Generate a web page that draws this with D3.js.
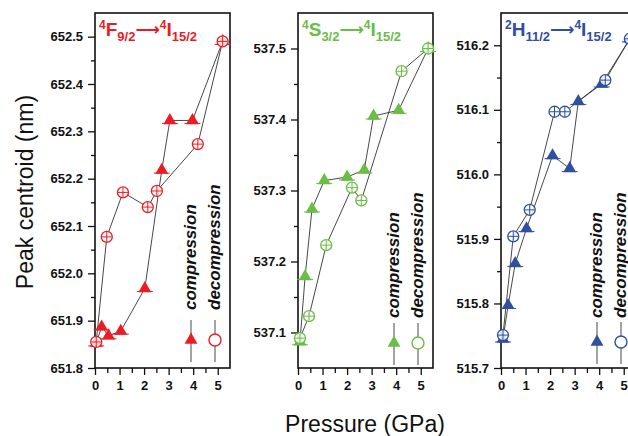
<!DOCTYPE html>
<html><head><meta charset="utf-8">
<script src="https://cdn.jsdelivr.net/npm/d3@7"></script>
<style>body{margin:0;background:#fff;} svg{display:block;font-family:"Liberation Sans",Arial,sans-serif;}</style>
</head><body><svg id="c" width="628" height="436"></svg>
<script>
// ---------- data ----------
const xTickValues = [0, 1, 2, 3, 4, 5];
const legendLabels = ["compression", "decompression"];

// 4F9/2 -> 4I15/2
const fCompP = [0.05, 0.27, 0.55, 1.05, 2.03, 2.72, 3.05, 3.97, 5.2];
const fCompV = [651.853, 651.887, 651.868, 651.878, 651.968, 652.218, 652.323, 652.323, 652.49];
const fDecP  = [5.2, 4.19, 2.52, 2.15, 1.14, 0.48, 0.05];
const fDecV  = [652.49, 652.273, 652.174, 652.14, 652.171, 652.077, 651.855];
const fYTicks = [651.8, 651.9, 652.0, 652.1, 652.2, 652.3, 652.4, 652.5];

// 4S3/2 -> 4I15/2
const sCompP = [0.08, 0.29, 0.57, 1.07, 2.0, 2.7, 3.08, 4.1, 5.3];
const sCompV = [537.087, 537.179, 537.274, 537.314, 537.319, 537.329, 537.405, 537.413, 537.5];
const sDecP  = [5.3, 4.22, 2.58, 2.2, 1.15, 0.45, 0.08];
const sDecV  = [537.5, 537.468, 537.286, 537.304, 537.223, 537.123, 537.092];
const sYTicks = [537.1, 537.2, 537.3, 537.4, 537.5];

// 2H11/2 -> 4I15/2
const hCompP = [0.08, 0.29, 0.58, 1.04, 2.1, 2.8, 3.15, 4.1, 5.25];
const hCompV = [515.745, 515.797, 515.862, 515.916, 516.029, 516.009, 516.113, 516.14, 516.21];
const hDecP  = [5.25, 4.25, 2.6, 2.18, 1.17, 0.5, 0.08];
const hDecV  = [516.21, 516.146, 516.097, 516.097, 515.945, 515.904, 515.751];
const hYTicks = [515.7, 515.8, 515.9, 516.0, 516.1, 516.2];

// ---------- layout ----------
const panels = [
  {left: 95, yDom: [651.8, 652.55], yTicks: fYTicks, color: "#ec1c24",
   comp: [fCompP, fCompV], dec: [fDecP, fDecV],
   title: [["4","sup"],["F","main"],["9/2","sub"],["\u27F6","arrow"],["4","sup"],["I","main"],["15/2","sub"]],
   legTextY: 310, legMarkY: 340},
  {left: 298, yDom: [537.05, 537.55], yTicks: sYTicks, color: "#6abd45",
   comp: [sCompP, sCompV], dec: [sDecP, sDecV],
   title: [["4","sup"],["S","main"],["3/2","sub"],["\u27F6","arrow"],["4","sup"],["I","main"],["15/2","sub"]],
   legTextY: 318, legMarkY: 343},
  {left: 501, yDom: [515.7, 516.25], yTicks: hYTicks, color: "#2f4f9f",
   comp: [hCompP, hCompV], dec: [hDecP, hDecV],
   title: [["2","sup"],["H","main"],["11/2","sub"],["\u27F6","arrow"],["4","sup"],["I","main"],["15/2","sub"]],
   legTextY: 318, legMarkY: 342}
];
const plotTop = 13, plotBottom = 368, pw = 135;

const svg = d3.select("#c");

panels.forEach(p => {
  const x = d3.scaleLinear().domain([0, 5.5]).range([p.left, p.left + pw]);
  const y = d3.scaleLinear().domain(p.yDom).range([plotBottom, plotTop]);
  const g = svg.append("g");

  const yMinorA = p.yTicks.map(t => t + 0.05).filter(t => t < p.yDom[1] - 0.001);
  const yMinorB = p.yTicks.map(t => t - 0.05).filter(t => t > p.yDom[0] + 0.001);
  const allYMinor = Array.from(new Set(yMinorA.concat(yMinorB).map(v => +v.toFixed(3))));
  const xMinor = [0.5, 1.5, 2.5, 3.5, 4.5];

  const yAxis = d3.axisLeft(y).tickValues(p.yTicks).tickFormat(d3.format(".1f")).tickSize(7).tickPadding(5);
  const yAxisMinor = d3.axisLeft(y).tickValues(allYMinor).tickFormat("").tickSize(4);
  const xAxis = d3.axisBottom(x).tickValues(xTickValues).tickFormat(d3.format("d")).tickSize(7).tickPadding(6);
  const xAxisMinor = d3.axisBottom(x).tickValues(xMinor).tickFormat("").tickSize(5);

  g.append("g").attr("transform", `translate(${p.left},0)`).call(yAxis);
  g.append("g").attr("transform", `translate(${p.left},0)`).call(yAxisMinor);
  g.append("g").attr("transform", `translate(0,${plotBottom})`).call(xAxis);
  g.append("g").attr("transform", `translate(0,${plotBottom})`).call(xAxisMinor);
  g.selectAll(".domain").remove();
  g.selectAll(".tick line").attr("stroke", "#111").attr("stroke-width", 1.3);
  g.selectAll(".tick text").attr("fill", "#111").attr("font-weight", "bold")
    .attr("font-size", 13).attr("font-family", "'Liberation Sans', Arial, sans-serif");

  g.append("rect").attr("x", p.left).attr("y", plotTop).attr("width", pw).attr("height", plotBottom - plotTop)
    .attr("fill", "none").attr("stroke", "#111").attr("stroke-width", 1.6);

  const line = d3.line().x(d => x(d[0])).y(d => y(d[1]));
  const comp = p.comp[0].map((v, i) => [v, p.comp[1][i]]);
  const dec = p.dec[0].map((v, i) => [v, p.dec[1][i]]);
  [comp, dec].forEach(data => {
    g.append("path").datum(data).attr("d", line).attr("fill", "none")
      .attr("stroke", "#333").attr("stroke-width", 0.9);
  });

  const tri = d3.symbol().type(d3.symbolTriangle).size(72);
  comp.forEach(d => {
    const cx = x(d[0]), cy = y(d[1]);
    g.append("path").attr("d", tri()).attr("transform", `translate(${cx},${cy})`).attr("fill", p.color);
    g.append("line").attr("x1", cx - 8).attr("x2", cx + 8).attr("y1", cy + 3).attr("y2", cy + 3)
      .attr("stroke", p.color).attr("stroke-width", 1);
  });
  dec.forEach(d => {
    const cx = x(d[0]), cy = y(d[1]);
    g.append("circle").attr("cx", cx).attr("cy", cy).attr("r", 5.5)
      .attr("fill", "#fff").attr("fill-opacity", 0.85).attr("stroke", p.color).attr("stroke-width", 1.3);
    g.append("line").attr("x1", cx - 5).attr("x2", cx + 5).attr("y1", cy).attr("y2", cy)
      .attr("stroke", p.color).attr("stroke-width", 1);
    g.append("line").attr("x1", cx).attr("x2", cx).attr("y1", cy - 5).attr("y2", cy + 5)
      .attr("stroke", p.color).attr("stroke-width", 1);
  });

  const sizes = {main: 19, sup: 12, sub: 13, arrow: 17};
  const base = {main: 36, sup: 29, sub: 41, arrow: 35};
  const t = g.append("text").attr("x", p.left + 4).attr("y", 36)
    .attr("fill", p.color).attr("font-weight", "bold");
  let cur = 36;
  p.title.forEach(([txt, k]) => {
    const ts = t.append("tspan").attr("dy", base[k] - cur).attr("font-size", sizes[k]).text(txt);
    if (k === "arrow") ts.attr("font-family", "'DejaVu Sans', sans-serif").attr("font-weight", "bold");
    cur = base[k];
  });

  const lx = [p.left + 96, p.left + 120];
  legendLabels.forEach((lab, i) => {
    const mx = lx[i];
    g.append("line").attr("x1", mx).attr("x2", mx).attr("y1", p.legMarkY - 20).attr("y2", p.legMarkY + 22)
      .attr("stroke", "#333").attr("stroke-width", 0.9);
    if (i === 0) {
      g.append("path").attr("d", tri()).attr("transform", `translate(${mx},${p.legMarkY})`).attr("fill", p.color);
    } else {
      g.append("circle").attr("cx", mx).attr("cy", p.legMarkY).attr("r", 6)
        .attr("fill", "#fff").attr("stroke", p.color).attr("stroke-width", 1.4);
    }
    g.append("text").attr("transform", `translate(${mx + 5},${p.legTextY}) rotate(-90)`)
      .attr("font-size", 17).attr("font-weight", "bold").attr("font-style", "italic")
      .attr("fill", "#111").text(lab);
  });
});

svg.append("text").attr("transform", "translate(33,192) rotate(-90)").attr("text-anchor", "middle")
  .attr("font-size", 23).attr("fill", "#111").text("Peak centroid (nm)");
svg.append("text").attr("x", 365).attr("y", 432).attr("text-anchor", "middle")
  .attr("font-size", 23).attr("fill", "#111").text("Pressure (GPa)");
</script></body></html>
